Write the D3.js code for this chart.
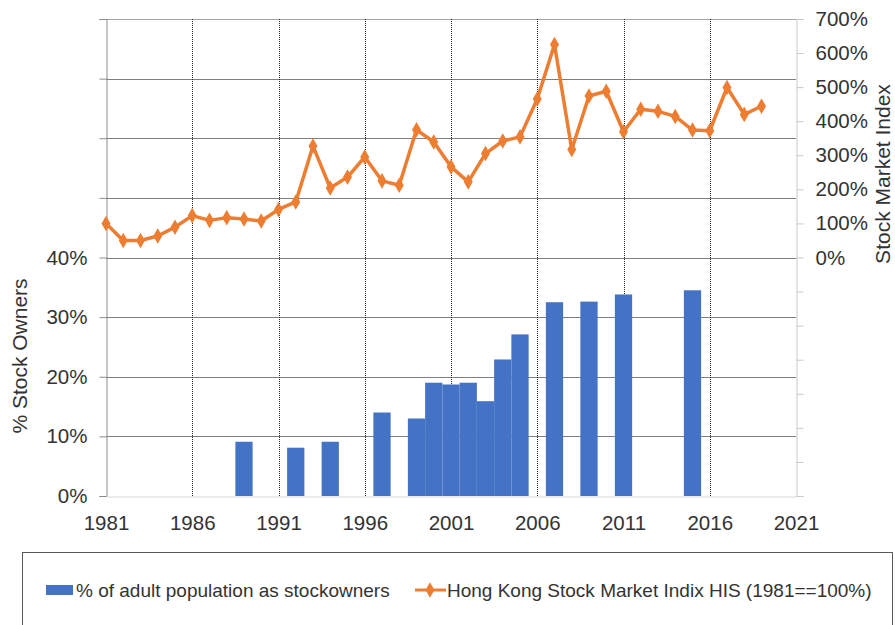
<!DOCTYPE html>
<html>
<head>
<meta charset="utf-8">
<script src="https://cdn.jsdelivr.net/npm/d3@7"></script>
<style>
  body { margin: 0; background: #fff; }
  text { font-family: "Liberation Sans", Arial, sans-serif; fill: #333; }
</style>
</head>
<body>
<script>
// stock owners (% of adults), survey years only
const ownerYears = [1989, 1992, 1994, 1997, 1999, 2000, 2001, 2002, 2003, 2004, 2005, 2007, 2009, 2011, 2015];
const ownerValues = [9.1, 8.1, 9.1, 14.0, 13.0, 19.0, 18.7, 19.0, 15.9, 22.9, 27.1, 32.5, 32.6, 33.8, 34.5];

// Hang Seng index, 1981 == 100%
const indexYears = [1981, 1982, 1983, 1984, 1985, 1986, 1987, 1988, 1989, 1990,
    1991, 1992, 1993, 1994, 1995, 1996, 1997, 1998, 1999, 2000,
    2001, 2002, 2003, 2004, 2005, 2006, 2007, 2008, 2009, 2010,
    2011, 2012, 2013, 2014, 2015, 2016, 2017, 2018, 2019];
const indexValues = [100, 50, 50, 63, 89, 123, 109, 117, 113, 107,
    141, 163, 327, 204, 236, 295, 225, 212, 375, 339,
    266, 222, 305, 342, 354, 465, 625, 317, 474, 488,
    369, 435, 429, 414, 374, 372, 499, 420, 444];

const xTicks = [1981, 1986, 1991, 1996, 2001, 2006, 2011, 2016, 2021];
const leftTicks = [0, 10, 20, 30, 40, 50, 60, 70, 80];
const rightTicks = [-700, -600, -500, -400, -300, -200, -100, 0, 100, 200, 300, 400, 500, 600, 700];

const legendLabels = ["% of adult population as stockowners", "Hong Kong Stock Market Indix HIS (1981==100%)"];

const width = 895, height = 625;
const plotLeft = 106, plotRight = 796, plotTop = 19, plotBottom = 496;
const blue = "#4472C4", orange = "#ED7D31";

const svg = d3.select("body").append("svg")
    .attr("width", width)
    .attr("height", height);

const x = d3.scaleLinear().domain([1981, 2021]).range([plotLeft, plotRight]);
const yLeft = d3.scaleLinear().domain([0, 80]).range([plotBottom, plotTop]);
const yRight = d3.scaleLinear().domain([-700, 700]).range([plotBottom, plotTop]);

//horizontal gridlines
svg.append("g")
    .selectAll("line")
    .data(leftTicks.slice(1))
    .enter().append("line")
    .attr("x1", plotLeft).attr("x2", plotRight)
    .attr("y1", d => Math.round(yLeft(d)) + 0.5)
    .attr("y2", d => Math.round(yLeft(d)) + 0.5)
    .attr("stroke", d => d === 80 ? "#a6a6a6" : "#7f7f7f")
    .attr("stroke-width", 1);

//vertical gridlines (dotted)
svg.append("g")
    .selectAll("line")
    .data(xTicks.slice(1, -1))
    .enter().append("line")
    .attr("x1", d => Math.round(x(d)) + 0.5)
    .attr("x2", d => Math.round(x(d)) + 0.5)
    .attr("y1", plotTop).attr("y2", plotBottom)
    .attr("stroke", "#262626")
    .attr("stroke-dasharray", "1,1");

//bars
svg.append("g")
    .selectAll("rect")
    .data(ownerYears.map((yr, i) => ({ yr, v: ownerValues[i] })))
    .enter().append("rect")
    .attr("x", d => x(d.yr - 0.5))
    .attr("width", d => x(d.yr + 0.5) - x(d.yr - 0.5))
    .attr("y", d => yLeft(d.v))
    .attr("height", d => plotBottom - yLeft(d.v))
    .attr("fill", blue);

//left axis
const leftAxis = svg.append("g")
    .attr("transform", `translate(${plotLeft + 0.5},0)`)
    .call(d3.axisLeft(yLeft).tickValues(leftTicks)
        .tickSize(7).tickPadding(12)
        .tickFormat(d => d <= 40 ? d + "%" : ""));

//right axis
const rightAxis = svg.append("g")
    .attr("transform", `translate(${plotRight + 0.5},0)`)
    .call(d3.axisRight(yRight).tickValues(rightTicks)
        .tickSize(7).tickPadding(12)
        .tickFormat(d => d >= 0 ? d + "%" : ""));

//bottom axis
const bottomAxis = svg.append("g")
    .attr("transform", `translate(0,${plotBottom + 0.5})`)
    .call(d3.axisBottom(x).tickValues(xTicks)
        .tickSize(0).tickPadding(19)
        .tickFormat(d3.format("d")));

[leftAxis, rightAxis, bottomAxis].forEach(g => {
    g.selectAll("text").style("font-size", "20.5px").attr("fill", "#333");
    g.attr("font-family", null);
});
leftAxis.select(".domain").attr("stroke", "#8c8c8c");
leftAxis.selectAll(".tick line").attr("stroke", "#8c8c8c");
rightAxis.select(".domain").attr("stroke", "#c8c8c8");
rightAxis.selectAll(".tick line").attr("stroke", "#c8c8c8");
bottomAxis.select(".domain").attr("stroke", "#d9d9d9");

//index line
const line = d3.line()
    .x((d, i) => x(indexYears[i]))
    .y(d => yRight(d));

svg.append("path")
    .datum(indexValues)
    .attr("fill", "none")
    .attr("stroke", orange)
    .attr("stroke-width", 3.5)
    .attr("stroke-linejoin", "round")
    .attr("d", line);

const diamond = d3.symbol().type(d3.symbolDiamond).size(70);
svg.append("g")
    .selectAll("path")
    .data(indexValues)
    .enter().append("path")
    .attr("transform", (d, i) => `translate(${x(indexYears[i])},${yRight(d)})`)
    .attr("d", diamond)
    .attr("fill", orange);

//axis titles
svg.append("text")
    .attr("transform", "translate(20,356) rotate(-90)")
    .attr("text-anchor", "middle")
    .attr("dy", "0.35em")
    .style("font-size", "21px")
    .text("% Stock Owners");

svg.append("text")
    .attr("transform", "translate(883,174) rotate(-90)")
    .attr("text-anchor", "middle")
    .attr("dy", "0.35em")
    .style("font-size", "21px")
    .text("Stock Market Index");

//legend
const legend = svg.append("g");
legend.append("rect")
    .attr("x", 22.5).attr("y", 552.5)
    .attr("width", 870).attr("height", 90)
    .attr("fill", "#fff")
    .attr("stroke", "#595959");

legend.append("rect")
    .attr("x", 46).attr("y", 585)
    .attr("width", 27).attr("height", 10)
    .attr("fill", blue);
legend.append("text")
    .attr("x", 76).attr("y", 597)
    .style("font-size", "19px")
    .text(legendLabels[0]);

legend.append("line")
    .attr("x1", 415).attr("x2", 446)
    .attr("y1", 590).attr("y2", 590)
    .attr("stroke", orange).attr("stroke-width", 3);
legend.append("path")
    .attr("transform", "translate(430,590)")
    .attr("d", diamond)
    .attr("fill", orange);
legend.append("text")
    .attr("x", 447).attr("y", 597)
    .style("font-size", "19px")
    .text(legendLabels[1]);
</script>
</body>
</html>
